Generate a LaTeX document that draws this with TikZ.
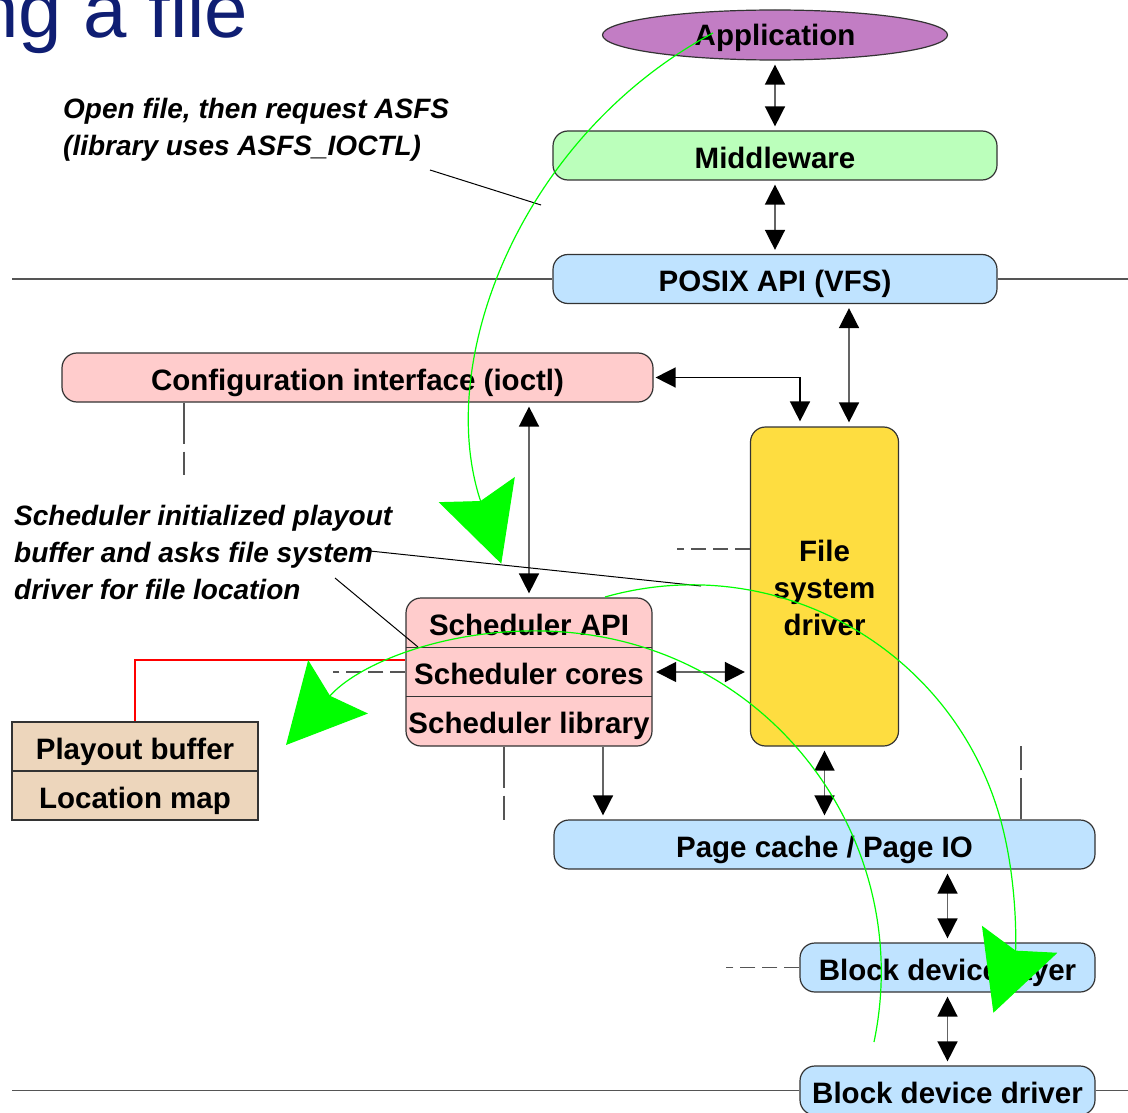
\documentclass[tikz,border=0pt]{standalone}
\usepackage{fontspec}
\setmainfont{Liberation Sans}
\usetikzlibrary{arrows.meta,shapes.geometric}

\definecolor{appfill}{RGB}{194,125,196}
\definecolor{mwfill}{RGB}{187,255,187}
\definecolor{osfill}{RGB}{191,227,255}
\definecolor{schedfill}{RGB}{255,204,204}
\definecolor{fsfill}{RGB}{254,221,64}
\definecolor{buffill}{RGB}{237,214,188}
\definecolor{titleblue}{RGB}{15,30,115}
\definecolor{flowgreen}{RGB}{0,255,0}
\definecolor{edgegray}{RGB}{51,51,51}
\definecolor{linkgray}{RGB}{100,100,100}
\definecolor{rulegray}{RGB}{85,85,85}

\tikzset{
  boxfont/.style={font=\fontsize{29.5}{37}\selectfont\bfseries},
  capcenter/.style={text height=25pt, text depth=0pt},
  layer/.style={draw=edgegray, line width=1.2pt, rounded corners=15pt, inner sep=0pt, boxfont},
  cell/.style={inner sep=0pt, minimum width=246pt, minimum height=49.3pt, boxfont, capcenter},
  plainbox/.style={draw=edgegray, line width=1.2pt, inner sep=0pt, minimum width=246pt,
    minimum height=49pt, fill=buffill, boxfont, capcenter},
  link/.style={draw=linkgray, line width=1.5pt, {Triangle[length=20pt,width=20pt,color=black]}-{Triangle[length=20pt,width=20pt,color=black]},
    shorten <=4pt, shorten >=4pt},
  onelink/.style={draw=linkgray, line width=1.5pt, -{Triangle[length=20pt,width=20pt,color=black]},
    shorten <=0pt, shorten >=4pt},
  stubh/.style={draw=rulegray, line width=1.2pt, dash pattern=on 15pt off 7pt},
  stubv/.style={draw=rulegray, line width=1.2pt, dash pattern=on 41pt off 8pt},
  rule/.style={draw=rulegray, line width=1.2pt},
  note/.style={inner sep=0pt, align=left, font=\fontsize{28}{37}\selectfont\bfseries\itshape},
  pointer/.style={draw=black, line width=1pt},
  flow/.style={draw=flowgreen, line width=1.2pt,
    -{Stealth[length=78pt, width=80pt, inset=12pt, color=flowgreen, fill=flowgreen]}},
}

\begin{document}
\begin{tikzpicture}[x=1pt, y=-1pt]
  \useasboundingbox[fill=white] (0,0) rectangle (1128,1113);

  % heading, running in from the left edge
  \node[anchor=base west, inner sep=0pt, font=\fontsize{78}{78}\selectfont, text=titleblue]
    (title) at (-25,37.5) {ng a file};

  % layer stack
  \node[ellipse, draw=edgegray, line width=1.2pt, fill=appfill, minimum width=345pt,
    minimum height=50pt, inner sep=0pt, boxfont, text height=21pt, text depth=0pt]
    (app) at (775,35) {Application};
  \node[layer, fill=mwfill, minimum width=444pt, minimum height=49pt, capcenter]
    (mw) at (775,155.5) {Middleware};
  \node[layer, fill=osfill, minimum width=444pt, minimum height=49pt, capcenter]
    (posix) at (775,279) {POSIX API (VFS)};
  \node[layer, fill=schedfill, minimum width=591pt, minimum height=49pt, capcenter]
    (cfg) at (357.5,377.5) {Configuration interface (ioctl)};
  \node[layer, fill=fsfill, minimum width=148pt, minimum height=319pt, align=center]
    (fsd) at (824.5,586.5) {\rule{0pt}{25.1pt}File\\system\\driver};

  % scheduler block with three rows
  \node[layer, fill=schedfill, minimum width=246pt, minimum height=148pt] (sched) at (529,672) {};
  \node[cell] (sapi) at (529,622.7) {Scheduler API};
  \node[cell] (score) at (529,672) {Scheduler cores};
  \node[cell] (slib) at (529,721.3) {Scheduler library};
  \draw[edgegray, line width=1.2pt] (sapi.south west) -- (sapi.south east);
  \draw[edgegray, line width=1.2pt] (score.south west) -- (score.south east);

  % buffers
  \node[plainbox] (pbuf) at (135,746.5) {Playout buffer};
  \node[plainbox] (lmap) at (135,795.5) {Location map};

  \node[layer, fill=osfill, minimum width=541pt, minimum height=49pt, capcenter]
    (page) at (824.5,844.5) {Page cache / Page IO};
  \node[layer, fill=osfill, minimum width=295pt, minimum height=49pt, capcenter]
    (bdl) at (947.5,967.5) {Block device layer};
  \node[layer, fill=osfill, minimum width=295pt, minimum height=49pt, capcenter]
    (bdd) at (947.5,1090.5) {Block device driver};

  % horizontal rules
  \coordinate (ruleAL) at (12,279);
  \coordinate (ruleAR) at (1128,279);
  \coordinate (ruleBL) at (12,1090.5);
  \coordinate (ruleBR) at (1128,1090.5);
  \draw[rule] (ruleAL) -- (posix.west);
  \draw[rule] (posix.east) -- (ruleAR);
  \draw[rule] (ruleBL) -- (bdd.west);
  \draw[rule] (bdd.east) -- (ruleBR);

  % dashed stubs
  \coordinate (cfgstub) at (184,475);
  \coordinate (fsdstub) at (677,549);
  \coordinate (corestub) at (333,672);
  \coordinate (schedstub) at (504,820);
  \coordinate (pagestub) at (1021,746);
  \coordinate (bdlstub) at (726,967.5);
  \draw[stubv] (cfg.south -| cfgstub) -- (cfgstub);
  \draw[stubh] (fsd.west |- fsdstub) -- (fsdstub);
  \draw[stubh] (sched.west |- corestub) -- (corestub);
  \draw[stubv] (sched.south -| schedstub) -- (schedstub);
  \draw[stubv] (page.north -| pagestub) -- (pagestub);
  \draw[stubh] (bdl.west) -- (bdlstub);

  % red link from the scheduler to the playout buffer
  \draw[red, line width=1.2pt] (pbuf.north) |- ([yshift=12pt]sched.west);

  % connectors
  \draw[link] (app.south) -- (mw.north);
  \draw[link] (mw.south) -- (posix.north);
  \draw[link] ([xshift=24.5pt]fsd.north |- posix.south) -- ([xshift=24.5pt]fsd.north);
  \draw[link, draw=black, shorten <=5pt, shorten >=2pt] ([xshift=-24.5pt]fsd.north) |- (cfg.east);
  \draw[link] (sched.north |- cfg.south) -- (sched.north);
  \draw[link, shorten >=5pt] (score.east) -- (score.east -| fsd.west);
  \draw[onelink] ([xshift=74pt]sched.south) -- ([xshift=74pt]sched.south |- page.north);
  \draw[link] (fsd.south) -- (fsd.south |- page.north);
  \draw[link] (bdl.north |- page.south) -- (bdl.north);
  \draw[link] (bdl.south) -- (bdd.north);

  % annotations
  \node[note, anchor=north west] (note1) at (63,98.5)
    {Open file, then request ASFS\\(library uses ASFS\_IOCTL)};
  \node[note, anchor=north west] (note2) at (14,505.5)
    {Scheduler initialized playout\\buffer and asks file system\\driver for file location};
  \coordinate (p1a) at (430,170);
  \coordinate (p1b) at (541,205);
  \coordinate (p2a) at (370,551);
  \coordinate (p2b) at (701,586);
  \coordinate (p3a) at (335,578);
  \coordinate (p3b) at (418,647);
  \draw[pointer] (p1a) -- (p1b);
  \draw[pointer] (p2a) -- (p2b);
  \draw[pointer] (p3a) -- (p3b);

  % request flow
  \coordinate (flowA) at (713,33);
  \coordinate (flowB) at (605,597);
  \coordinate (flowC) at (874,1042);
  \draw[flow] (flowA) arc[start angle=241.8, end angle=161.7, radius=444];
  \draw[flow] (flowB) arc[start angle=-105.8, end angle=19.7, radius=320];
  \draw[flow] (flowC) arc[start angle=11.8, end angle=-138.2, radius=341];
\end{tikzpicture}
\end{document}
